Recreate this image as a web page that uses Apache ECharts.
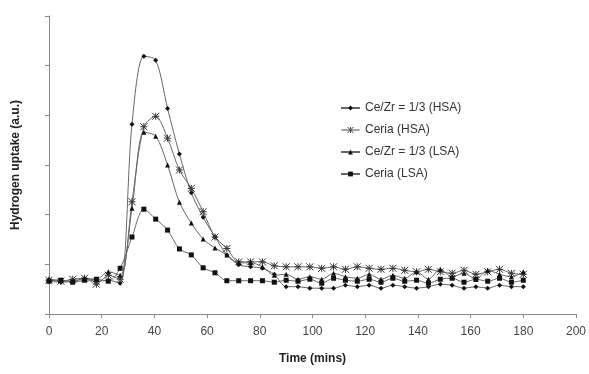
<!DOCTYPE html>
<html>
<head>
<meta charset="utf-8">
<script src="https://cdn.jsdelivr.net/npm/echarts@6/dist/echarts.min.js"></script>
<style>
  html, body { margin: 0; padding: 0; background: #fff; }
  #chart { width: 589px; height: 374px; }
</style>
</head>
<body>
<div id="chart"></div>
<script>
var times = [0, 4.5, 9, 13.5, 18, 22.5, 27, 31.5, 36, 40.5, 45, 49.5, 54, 58.5, 63, 67.5, 72, 76.5, 81, 85.5,
  90, 94.5, 99, 103.5, 108, 112.5, 117, 121.5, 126, 130.5, 135, 139.5, 144, 148.5, 153, 157.5, 162, 166.5, 171, 175.5, 180];

var ceZrHSA = [0.66, 0.64, 0.66, 0.70, 0.66, 0.68, 0.62, 3.82, 5.19, 5.11, 4.14, 3.22, 2.44, 1.95, 1.55, 1.19, 0.99, 0.95, 0.92, 0.80,
  0.55, 0.55, 0.52, 0.52, 0.52, 0.58, 0.55, 0.58, 0.52, 0.58, 0.55, 0.52, 0.55, 0.60, 0.58, 0.52, 0.55, 0.52, 0.58, 0.55, 0.55];
var ceriaHSA = [0.68, 0.66, 0.70, 0.72, 0.60, 0.78, 0.70, 2.26, 3.77, 3.98, 3.54, 2.90, 2.53, 2.06, 1.55, 1.32, 1.05, 1.05, 1.05, 0.97,
  0.95, 0.95, 0.95, 0.92, 0.95, 0.90, 0.95, 0.92, 0.90, 0.92, 0.88, 0.85, 0.90, 0.85, 0.82, 0.88, 0.80, 0.85, 0.90, 0.82, 0.80];
var ceZrLSA = [0.70, 0.68, 0.66, 0.72, 0.70, 0.85, 0.78, 2.13, 3.66, 3.58, 3.00, 2.25, 1.83, 1.51, 1.33, 1.19, 1.03, 1.03, 0.95, 0.78,
  0.80, 0.70, 0.75, 0.70, 0.82, 0.75, 0.72, 0.80, 0.70, 0.78, 0.72, 0.85, 0.70, 0.90, 0.75, 0.82, 0.70, 0.88, 0.80, 0.75, 0.85];
var ceriaLSA = [0.66, 0.68, 0.64, 0.68, 0.70, 0.66, 0.92, 1.55, 2.11, 1.91, 1.69, 1.31, 1.19, 0.93, 0.83, 0.67, 0.67, 0.67, 0.67, 0.64,
  0.68, 0.66, 0.70, 0.62, 0.72, 0.68, 0.66, 0.70, 0.64, 0.72, 0.66, 0.68, 0.62, 0.70, 0.72, 0.64, 0.70, 0.66, 0.72, 0.64, 0.68];

var names = ["Ce/Zr = 1/3 (HSA)", "Ceria (HSA)", "Ce/Zr = 1/3 (LSA)", "Ceria (LSA)"];
var starPath = "path://M0,0L10,10M10,0L0,10M5,0L5,10M0,5L10,5";
// same star with the legend line running through it
var starLegend = "path://M0,5L30,5M10,0L20,10M20,0L10,10M15,0L15,10";

function pairs(vals) {
  return times.map(function (t, i) { return [t, vals[i]]; });
}

function makeSeries(name, vals, symbol, size, style) {
  return {
    name: name,
    type: "line",
    data: pairs(vals),
    smooth: 0.3,
    symbol: symbol,
    symbolSize: size,
    lineStyle: { color: "#666", width: 1 },
    itemStyle: style || { color: "#111" },
  };
}

var chart = echarts.init(document.getElementById("chart"));
chart.setOption({
  animation: false,
  textStyle: { fontFamily: "Liberation Sans, Arial, sans-serif" },
  grid: { left: 49, right: 10, top: 16, bottom: 60 },
  legend: {
    orient: "vertical",
    left: 335,
    top: 97,
    itemGap: 10,
    itemWidth: 19,
    itemHeight: 6,
    textStyle: { fontSize: 12, color: "#333" },
    data: [
      names[0],
      { name: names[1], icon: starLegend, itemStyle: { color: "#fff", borderColor: "#444", borderWidth: 1 } },
      names[2],
      names[3],
    ],
  },
  xAxis: {
    type: "value",
    min: 0,
    max: 200,
    interval: 20,
    name: "Time (mins)",
    nameLocation: "middle",
    nameGap: 39,
    nameTextStyle: { fontSize: 12, fontWeight: "bold", color: "#222" },
    axisLine: { lineStyle: { color: "#888" } },
    axisTick: { length: 4, lineStyle: { color: "#888" } },
    axisLabel: { fontSize: 12, color: "#444", margin: 12 },
    splitLine: { show: false },
  },
  yAxis: {
    type: "value",
    min: 0,
    max: 6,
    interval: 1,
    name: "Hydrogen uptake (a.u.)",
    nameLocation: "middle",
    nameGap: 27,
    nameTextStyle: { fontSize: 12, fontWeight: "bold", color: "#222" },
    axisLine: { show: true, lineStyle: { color: "#888" } },
    axisTick: { show: true, length: 4, lineStyle: { color: "#888" } },
    axisLabel: { show: false },
    splitLine: { show: false },
  },
  series: [
    makeSeries(names[0], ceZrHSA, "diamond", 5),
    makeSeries(names[1], ceriaHSA, starPath, 7, { color: "#fff", borderColor: "#333", borderWidth: 1 }),
    makeSeries(names[2], ceZrLSA, "triangle", 5),
    makeSeries(names[3], ceriaLSA, "rect", 5),
  ],
});
</script>
</body>
</html>
